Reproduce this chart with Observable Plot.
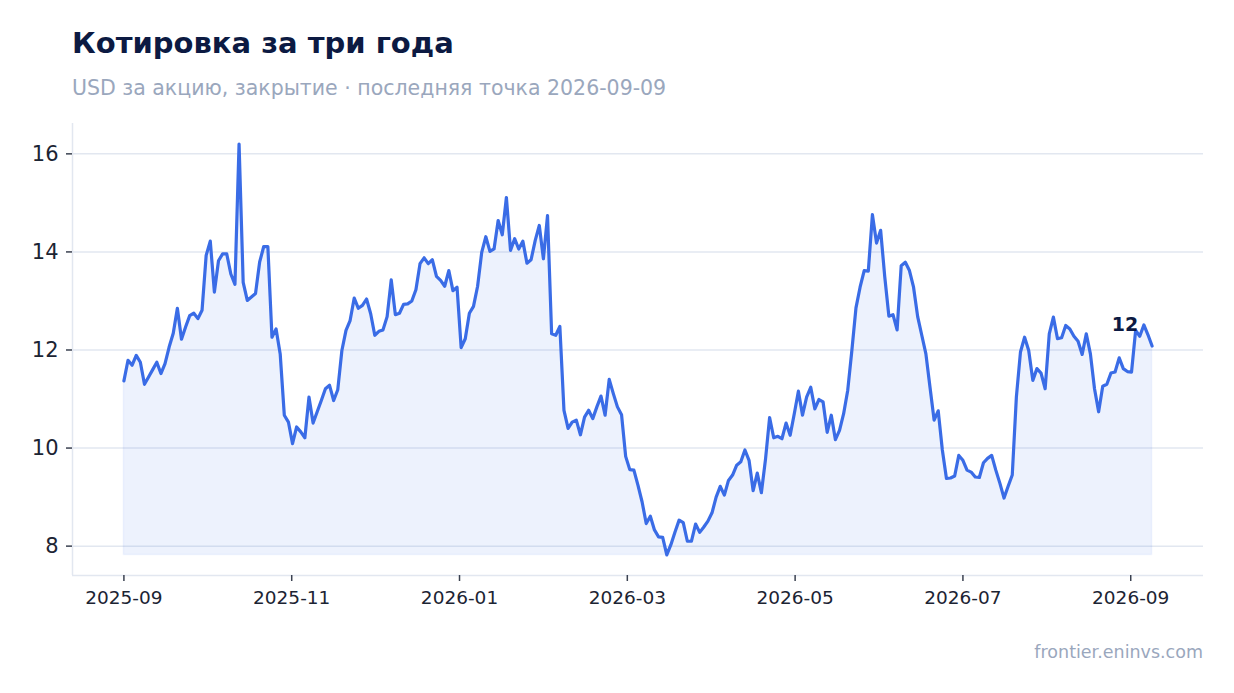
<!DOCTYPE html>
<html>
<head>
<meta charset="utf-8">
<script src="https://cdn.jsdelivr.net/npm/d3@7"></script>
<script src="https://cdn.jsdelivr.net/npm/@observablehq/plot@0.6"></script>
<style>
  html, body { margin: 0; padding: 0; background: #ffffff; }
  body { width: 1234px; height: 693px; position: relative; overflow: hidden; font-family: "DejaVu Sans", sans-serif; }
  #title { position: absolute; left: 72px; top: 24px; font-size: 29px; font-weight: bold; color: #0c1a42; line-height: 38px; white-space: nowrap; }
  #subtitle { position: absolute; left: 72px; top: 74px; font-size: 20.5px; color: #9aa7bd; line-height: 28px; white-space: nowrap; }
  #chart { position: absolute; left: 0; top: 100px; }
  #footer { position: absolute; right: 31px; top: 640px; font-size: 17.5px; color: #9aa7bd; line-height: 24px; white-space: nowrap; }
</style>
</head>
<body>
<div id="title">Котировка за три года</div>
<div id="subtitle">USD за акцию, закрытие · последняя точка 2026-09-09</div>
<div id="chart"></div>
<div id="footer">frontier.eninvs.com</div>
<script>
const startDate = "2025-09-01";
const endDate = "2026-09-09";
const closes = [
  11.37, 11.79, 11.69, 11.89, 11.75, 11.30, 11.45, 11.60, 11.75, 11.52,
  11.72, 12.06, 12.34, 12.85, 12.22, 12.47, 12.70, 12.75, 12.64, 12.81,
  13.93, 14.22, 13.18, 13.82, 13.96, 13.96, 13.55, 13.34, 16.20, 13.38,
  13.01, 13.08, 13.15, 13.79, 14.11, 14.11, 12.26, 12.43, 11.92, 10.67,
  10.53, 10.09, 10.43, 10.33, 10.21, 11.04, 10.51, 10.74, 10.97, 11.21,
  11.28, 10.97, 11.19, 11.99, 12.40, 12.60, 13.06, 12.85, 12.91, 13.04,
  12.74, 12.30, 12.38, 12.41, 12.68, 13.43, 12.72, 12.75, 12.93, 12.94,
  13.00, 13.23, 13.76, 13.88, 13.76, 13.84, 13.50, 13.42, 13.30, 13.62,
  13.21, 13.28, 12.05, 12.23, 12.75, 12.89, 13.30, 13.99, 14.31, 14.01,
  14.06, 14.64, 14.35, 15.11, 14.03, 14.27, 14.06, 14.22, 13.77, 13.84,
  14.23, 14.54, 13.86, 14.74, 12.33, 12.30, 12.48, 10.77, 10.40, 10.53,
  10.57, 10.27, 10.63, 10.77, 10.60, 10.84, 11.06, 10.67, 11.40, 11.11,
  10.84, 10.68, 9.83, 9.56, 9.55, 9.24, 8.90, 8.46, 8.61, 8.33,
  8.19, 8.18, 7.82, 8.03, 8.29, 8.53, 8.48, 8.10, 8.10, 8.45,
  8.28, 8.39, 8.51, 8.68, 9.00, 9.22, 9.04, 9.34, 9.45, 9.65,
  9.72, 9.96, 9.75, 9.13, 9.49, 9.09, 9.77, 10.62, 10.21, 10.24,
  10.19, 10.51, 10.26, 10.70, 11.16, 10.67, 11.04, 11.24, 10.80, 10.99,
  10.94, 10.32, 10.67, 10.17, 10.36, 10.70, 11.18, 11.99, 12.86, 13.28,
  13.62, 13.61, 14.76, 14.18, 14.44, 13.49, 12.69, 12.72, 12.41, 13.72,
  13.79, 13.62, 13.28, 12.68, 12.30, 11.92, 11.24, 10.57, 10.76, 9.96,
  9.38, 9.39, 9.43, 9.85, 9.75, 9.55, 9.51, 9.41, 9.40, 9.70,
  9.79, 9.85, 9.55, 9.28, 8.98, 9.22, 9.45, 11.04, 11.96, 12.26,
  11.99, 11.38, 11.62, 11.53, 11.21, 12.33, 12.67, 12.23, 12.25, 12.50,
  12.43, 12.28, 12.18, 11.91, 12.33, 11.92, 11.21, 10.74, 11.26, 11.30,
  11.53, 11.55, 11.84, 11.62, 11.56, 11.55, 12.40, 12.28, 12.51, 12.31,
  12.08
];
const yTicks = [8, 10, 12, 14, 16];
const monthTicks = [0, 2, 4, 6, 8, 10, 12]; // months after startDate

const DAY = 864e5;
const MONTH = 365.25 / 12 * DAY;
const t0 = new Date(startDate + "T00:00:00Z");
const t1 = new Date(endDate + "T00:00:00Z");
const n = closes.length;
const data = closes.map((v, i) => {
  const date = new Date(+t0 + (t1 - t0) * i / (n - 1));
  return { date, m: (date - t0) / MONTH, close: v };
});

const minV = d3.min(closes), maxV = d3.max(closes);
const mMax = data[n - 1].m;
const xPad = mMax * 0.05;
const yPad = (maxV - minV) * 0.05;
const xDomain = [-xPad, mMax + xPad];
const yDomain = [minV - yPad, maxV + yPad];
const last = data[n - 1];
const fmtMonth = d3.utcFormat("%Y-%m");

const lineColor = "#3a6ce6";
const gridColor = "#e2e7f0";
const inkColor = "#1c2433";

const chart = Plot.plot({
  width: 1234,
  height: 520,
  marginLeft: 72,
  marginRight: 31,
  marginTop: 23,
  marginBottom: 45,
  style: { fontFamily: "DejaVu Sans, sans-serif", background: "transparent", overflow: "visible" },
  x: { type: "linear", domain: xDomain },
  y: { domain: yDomain },
  marks: [
    Plot.gridY(yTicks, { stroke: gridColor, strokeOpacity: 1, strokeWidth: 1.5 }),
    Plot.ruleX([xDomain[0]], { stroke: gridColor, strokeWidth: 1.5 }),
    Plot.ruleY([yDomain[0]], { stroke: gridColor, strokeWidth: 1.5 }),
    Plot.areaY(data, { x: "m", y1: minV, y2: "close", fill: lineColor, fillOpacity: 0.09, stroke: lineColor, strokeOpacity: 0.06, strokeWidth: 1.5 }),
    Plot.lineY(data, { x: "m", y: "close", stroke: lineColor, strokeWidth: 3.2, strokeLinejoin: "round", strokeLinecap: "round" }),
    Plot.axisY(yTicks, { tickSize: 6, tickPadding: 8, fontSize: 21, color: inkColor, stroke: "#3a4150", strokeWidth: 1.5, label: null }),
    Plot.axisX(monthTicks, { tickFormat: k => fmtMonth(d3.utcMonth.offset(t0, k)), tickSize: 6, tickPadding: 9, fontSize: 18.5, color: inkColor, stroke: "#3a4150", strokeWidth: 1.5, label: null }),
    Plot.text([last], { x: "m", y: "close", text: d => String(Math.round(d.close)), dx: -27, dy: -21, fontSize: 19, fontWeight: "bold", fill: "#0c1a42" })
  ]
});
document.getElementById("chart").appendChild(chart);
</script>
</body>
</html>
